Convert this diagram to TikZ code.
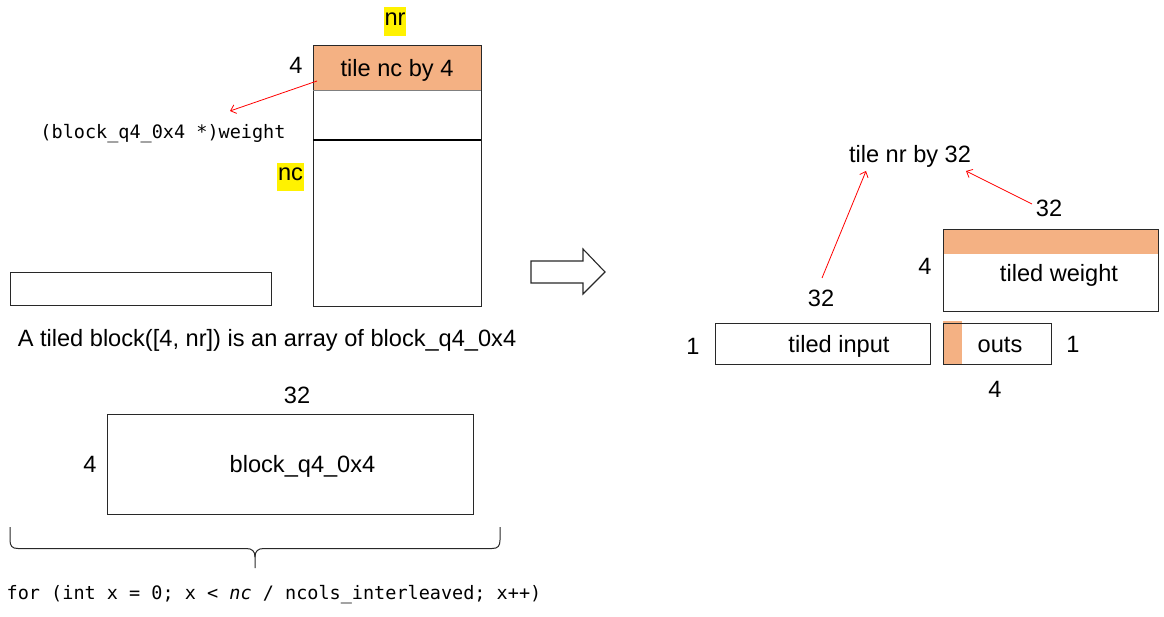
\documentclass[tikz,border=0pt]{standalone}
\usepackage{fontspec}
\setmainfont{Liberation Sans}
\setmonofont{DejaVu Sans Mono}
\usetikzlibrary{arrows.meta}
\definecolor{tileorange}{RGB}{244,177,131}
\definecolor{edge}{RGB}{40,40,40}
\begin{document}
\begin{tikzpicture}[x=1pt,y=-1pt,
  lbl/.style={font=\fontsize{23.6}{28}\selectfont, inner sep=0pt, text height=0.72em, text depth=0.2em, yshift=-6pt},
  code/.style={font=\ttfamily\fontsize{18.5}{22}\selectfont, inner sep=0pt, text height=0.72em, text depth=0.2em, yshift=-4pt},
  hl/.style={lbl, fill=yellow, inner xsep=1pt, inner ysep=0pt, text depth=0pt, yshift=6pt},
  cell/.style={draw=edge, line width=1.1pt, inner sep=0pt, anchor=north west},
  note/.style={draw=red, line width=0.8pt, -{Straight Barb[length=5pt,width=9pt]}},
  brc/.style={draw=edge, line width=1pt},
]
\useasboundingbox (0,0) rectangle (1164,617);

% ---- packed weight column (left) ----
\fill[tileorange] (313,45) rectangle (481,91);
\node[cell, minimum width=168pt, minimum height=261pt] (col) at (313,45) {};
\draw[gray, line width=1pt] (313,91) -- (481,91);
\draw[black, line width=1.1pt] (313,140) -- (481,140);
\node[lbl] (tilenc) at (397,68) {tile nc by 4};
\node[lbl] (four) at (296,65) {4};
\node[hl, minimum height=29pt] (nr) at (395,21.5) {nr};
\node[hl, minimum height=28pt] (nc) at (290.5,177) {nc};

\node[code] (wptr) at (163,132) {(block\_q4\_0x4 *)weight};
\coordinate (tailA) at (317,81);
\coordinate (headA) at (230,111);
\draw[note] (tailA) -- (headA);

\node[cell, minimum width=261pt, minimum height=33pt] (row) at (9.5,272) {};
\node[lbl] (caption) at (267,338) {A tiled block([4, nr]) is an array of block\_q4\_0x4};

% ---- one block_q4_0x4 ----
\node[lbl] (w32) at (297,395) {32};
\node[cell, minimum width=366pt, minimum height=100pt] (blk) at (107,413.5) {};
\node[lbl] (h4) at (90,464) {4};
\node[lbl] (blkname) at (302.5,464) {block\_q4\_0x4};

% brace under the block
\draw[brc] (10,527) -- (10,540) .. controls (10,546) and (12,548.5) .. (18,548.5)
  -- (246,548.5) .. controls (252,548.5) and (255,551) .. (255,557) -- (255,568);
\draw[brc] (255,557) .. controls (255,551) and (258,548.5) .. (264,548.5)
  -- (492,548.5) .. controls (498,548.5) and (500,546) .. (500,540) -- (500,527);
\node[code] (loop) at (274,593) {for (int x = 0; x < \textit{nc} / ncols\_interleaved; x++)};

% ---- block arrow ----
\draw[draw=edge, fill=white, line width=1.1pt, line join=miter]
  (531,261) -- (583,261) -- (583,249) -- (605,272) -- (583,294) -- (583,283) -- (531,283) -- cycle;

% ---- tiled kernel (right) ----
\node[lbl] (tilenr) at (910,154) {tile nr by 32};

\fill[tileorange] (943,229) rectangle (1158,254);
\node[cell, minimum width=215pt, minimum height=82pt] (tw) at (943,229) {};
\node[lbl] (twlabel) at (1059,273) {tiled weight};
\node[lbl] (tw4) at (925,266) {4};
\node[lbl] (tw32) at (1049,208) {32};

\node[cell, minimum width=215pt, minimum height=41pt] (ti) at (715,323) {};
\node[lbl] (tilabel) at (839,344) {tiled input};
\node[lbl] (ti1) at (693,346) {1};
\node[lbl] (ti32) at (821,298) {32};

\fill[tileorange] (943,321) rectangle (962,364);
\node[cell, minimum width=108pt, minimum height=41pt] (outs) at (943,323) {};
\node[lbl] (outslabel) at (1000,344) {outs};
\node[lbl] (outs1) at (1073,344) {1};
\node[lbl] (outs4) at (995,389) {4};

\coordinate (tailB) at (822,278);
\coordinate (headB) at (866,171);
\coordinate (tailC) at (1032,204);
\coordinate (headC) at (966,171);
\draw[note] (tailB) -- (headB);
\draw[note] (tailC) -- (headC);
\end{tikzpicture}
\end{document}
